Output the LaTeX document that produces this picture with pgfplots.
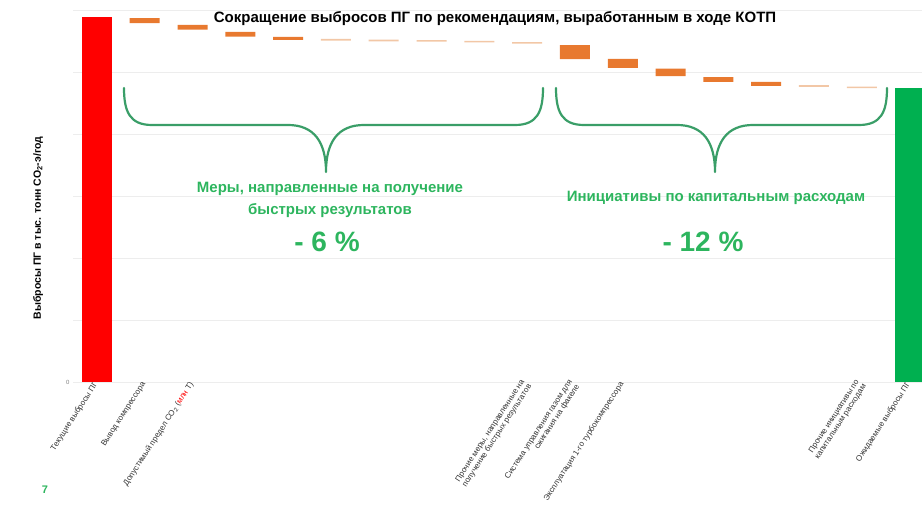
\documentclass[border=0pt]{standalone}
\usepackage{pgfplots}
\pgfplotsset{compat=1.18}
\usepackage{pgfplotstable}
\usepackage{fontspec}
\setmainfont{Liberation Sans}
\definecolor{wfred}{HTML}{FF0000}
\definecolor{wforange}{HTML}{E8792F}
\definecolor{wfpale}{HTML}{F2C7A6}
\definecolor{wfgreen}{HTML}{00B050}
\definecolor{txtgreen}{HTML}{2DB55E}
\definecolor{bracegreen}{HTML}{3A9E68}

\pgfplotstableread{
k  base   red   orange  pale  green
0  0      100   0       0     0
1  98.4   0     1.4     0     0
2  96.6   0     1.3     0     0
3  94.7   0     1.3     0     0
4  93.8   0     0.8     0     0
5  93.6   0     0       0.45  0
6  93.4   0     0       0.45  0
7  93.3   0     0       0.45  0
8  93.1   0     0       0.45  0
9  92.75  0     0       0.45  0
10 88.5   0     3.9     0     0
11 86.1   0     2.5     0     0
12 83.9   0     2.0     0     0
13 82.3   0     1.3     0     0
14 81.2   0     1.1     0     0
15 80.9   0     0       0.5   0
16 80.6   0     0       0.4   0
17 0      0     0       0     80.6
}\wf

\begin{document}
\begin{tikzpicture}
\path[use as bounding box] (0,0) rectangle (922pt,505pt);
\begin{axis}[
  at={(73pt,123pt)}, anchor=south west,
  scale only axis, width=849pt, height=372pt,
  xmin=-0.5, xmax=17.26, ymin=0, ymax=102,
  ybar stacked, bar width=30pt,
  axis line style={draw=none},
  major tick length=0pt,
  ymajorgrids, grid style={gray!14, line width=0.8pt},
  ytick={0,17,34,51,68,85,102},
  yticklabels={0,,,,,,},
  yticklabel style={font=\fontsize{6}{6}\selectfont, text=gray},
  xtick={0,1,2,9,10,11,16,17},
  xticklabels={
    Текущие выбросы ПГ,
    Вывод компрессора,
    {Допустимый предел CO\textsubscript{2} (\textcolor{red}{млн} Т)},
    {Прочие меры, направленные на\\получение быстрых результатов},
    {Система управления газом для\\сжигания на факеле},
    Эксплуатация 1-го турбокомпрессора,
    {Прочие инициативы по\\капитальным расходам},
    Ожидаемые выбросы ПГ},
  xticklabel style={rotate=57, anchor=east, align=right,
    font=\fontsize{8}{8.5}\selectfont, text=black!80, inner sep=1pt},
]
\addplot[draw=none, fill=none, forget plot] table[x=k, y=base] {\wf};
\addplot[draw=none, fill=wfred] table[x=k, y=red] {\wf};
\addplot[draw=none, fill=wforange] table[x=k, y=orange] {\wf};
\addplot[draw=none, fill=wfpale] table[x=k, y=pale] {\wf};
\addplot[draw=none, fill=wfgreen] table[x=k, y=green] {\wf};
\end{axis}
\begin{scope}[yshift=505pt, x=1pt, y=-1pt]
  \draw[bracegreen, line width=2.2pt, line cap=round, line join=round]
    (124,88) .. controls (124,112) and (130,125) .. (152,125) -- (288,125)
    .. controls (314,125) and (326,142) .. (326,172)
    .. controls (326,142) and (338,125) .. (364,125) -- (515,125)
    .. controls (537,125) and (543,112) .. (543,88);
  \draw[bracegreen, line width=2.2pt, line cap=round, line join=round]
    (556,88) .. controls (556,112) and (562,125) .. (584,125) -- (677,125)
    .. controls (703,125) and (715,142) .. (715,172)
    .. controls (715,142) and (727,125) .. (753,125) -- (859,125)
    .. controls (881,125) and (887,112) .. (887,88);
  \node[font=\bfseries\fontsize{15}{15}\selectfont] at (495,19)
    {Сокращение выбросов ПГ по рекомендациям, выработанным в ходе КОТП};
  \node[align=center, text=txtgreen, font=\bfseries\fontsize{15}{22}\selectfont]
    at (330,200) {Меры, направленные на получение\\быстрых результатов};
  \node[text=txtgreen, font=\bfseries\fontsize{28}{28}\selectfont] at (327,242) {- 6 \%};
  \node[text=txtgreen, font=\bfseries\fontsize{15}{15}\selectfont] at (716,198)
    {Инициативы по капитальным расходам};
  \node[text=txtgreen, font=\bfseries\fontsize{28}{28}\selectfont] at (703,242) {- 12 \%};
  \node[rotate=90, font=\bfseries\fontsize{10.5}{10.5}\selectfont] at (38,228)
    {Выбросы ПГ в тыс. тонн CO\textsubscript{2}-э/год};
  \node[text=txtgreen, font=\bfseries\fontsize{11}{11}\selectfont] at (45,490) {7};
\end{scope}
\end{tikzpicture}
\end{document}
